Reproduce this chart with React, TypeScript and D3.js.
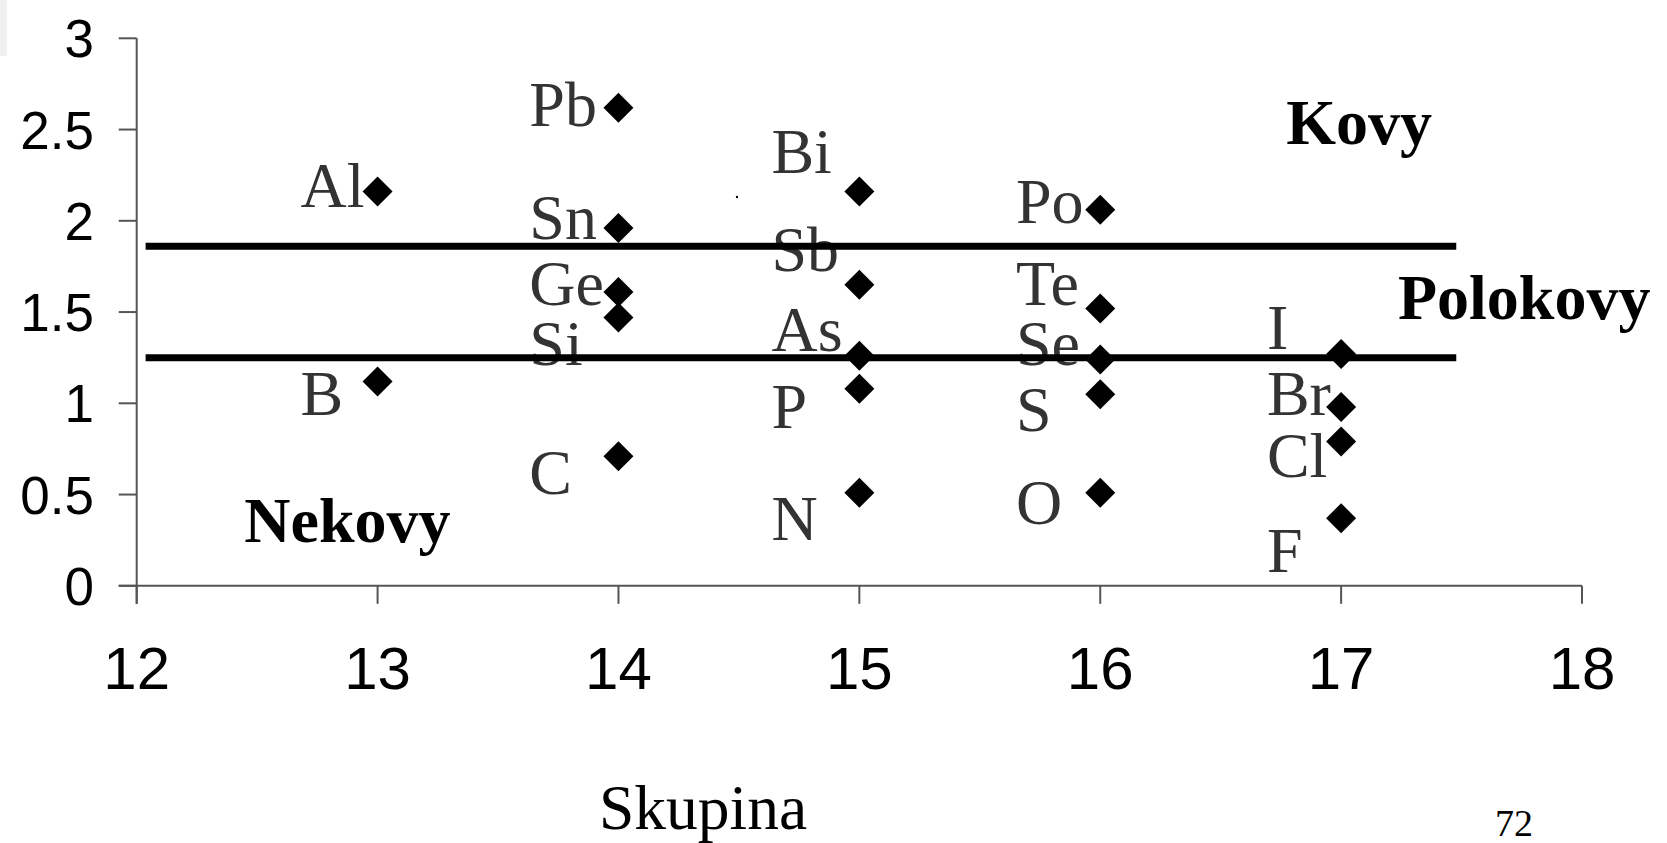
import React from "react";
import * as d3 from "d3";

// Element symbols, group (x) and value (y)
const elements = ["Al", "B", "Pb", "Sn", "Ge", "Si", "C", "Bi", "Sb", "As", "P", "N", "Po", "Te", "Se", "S", "O", "I", "Br", "Cl", "F"];
const groups = [13, 13, 14, 14, 14, 14, 14, 15, 15, 15, 15, 15, 16, 16, 16, 16, 16, 17, 17, 17, 17];
const values = [2.16, 1.12, 2.62, 1.96, 1.61, 1.47, 0.71, 2.16, 1.65, 1.26, 1.08, 0.51, 2.06, 1.52, 1.24, 1.05, 0.51, 1.27, 0.98, 0.79, 0.37];
// label anchor (left / baseline) in data units
const labelX = [12.68, 12.68, 13.63, 13.63, 13.63, 13.63, 13.63, 14.635, 14.635, 14.635, 14.635, 14.635, 15.65, 15.65, 15.65, 15.65, 15.65, 16.692, 16.692, 16.692, 16.692];
const labelY = [2.074, 0.938, 2.522, 1.899, 1.538, 1.212, 0.501, 2.26, 1.724, 1.287, 0.862, 0.25, 1.986, 1.538, 1.212, 0.85, 0.338, 1.299, 0.938, 0.594, 0.076];

// boundary lines
const boundaryValues = [1.86, 1.25];
const boundaryStart = 12.037;
const boundaryEnd = 17.478;

// region labels
const regionNames = ["Kovy", "Polokovy", "Nekovy"];
const regionX = [16.772, 17.236, 12.447];
const regionY = [2.423, 1.462, 0.239];

const xTicks = [12, 13, 14, 15, 16, 17, 18];
const yTicks = [0, 0.5, 1, 1.5, 2, 2.5, 3];
const xTitle = "Skupina";
const pageNumber = "72";

export default function App() {
  const W = 1667, H = 843;
  const x = d3.scaleLinear().domain([12, 18]).range([136.7, 1582]);
  const y = d3.scaleLinear().domain([0, 3]).range([585.8, 38.3]);
  const diamond = d3.symbol().type(d3.symbolSquare).size(450)() as string;
  const axisColor = "#555";
  const tick = 18;

  return (
    <svg width={W} height={H} style={{ position: "absolute", left: 0, top: 0, background: "#fff" }}>
      <rect x={0} y={0} width={7} height={56} fill="#f0f0f0" />
      {/* axes */}
      <line x1={x(12)} x2={x(12)} y1={y(3)} y2={y(0) + tick} stroke={axisColor} strokeWidth={2} />
      <line x1={x(12) - tick} x2={x(18)} y1={y(0)} y2={y(0)} stroke={axisColor} strokeWidth={2} />
      {yTicks.map((t) => (
        <g key={"yt" + t}>
          <line x1={x(12) - tick} x2={x(12)} y1={y(t)} y2={y(t)} stroke={axisColor} strokeWidth={2} />
          <text x={94} y={y(t)} dy="0.36em" textAnchor="end" fontFamily="'Liberation Sans', Arial, sans-serif" fontSize={53} fill="#000">
            {t}
          </text>
        </g>
      ))}
      {xTicks.map((t) => (
        <g key={"xt" + t}>
          <line x1={x(t)} x2={x(t)} y1={y(0)} y2={y(0) + tick} stroke={axisColor} strokeWidth={2} />
          <text x={x(t)} y={689} textAnchor="middle" fontFamily="'Liberation Sans', Arial, sans-serif" fontSize={60} fill="#000">
            {t}
          </text>
        </g>
      ))}
      {/* element labels */}
      {elements.map((e, i) => (
        <text key={"l" + e} x={x(labelX[i])} y={y(labelY[i])} fontFamily="'Liberation Serif', 'Times New Roman', serif" fontSize={64} fill="#333">
          {e}
        </text>
      ))}
      {/* boundary lines */}
      {boundaryValues.map((b) => (
        <line key={"b" + b} x1={x(boundaryStart)} x2={x(boundaryEnd)} y1={y(b)} y2={y(b)} stroke="#000" strokeWidth={7} />
      ))}
      {/* markers */}
      {elements.map((e, i) => (
        <path key={"m" + e} d={diamond} transform={`translate(${x(groups[i])},${y(values[i])}) rotate(45)`} fill="#000" />
      ))}
      {/* region labels */}
      {regionNames.map((r, i) => (
        <text key={r} x={x(regionX[i])} y={y(regionY[i])} fontFamily="'Liberation Serif', 'Times New Roman', serif" fontWeight="bold" fontSize={64} fill="#000">
          {r}
        </text>
      ))}
      <circle cx={737} cy={197} r={1.2} fill="#000" />
      <text x={703} y={829} textAnchor="middle" fontFamily="'Liberation Serif', 'Times New Roman', serif" fontSize={63.5} fill="#000">
        {xTitle}
      </text>
      <text x={1514} y={836} textAnchor="middle" fontFamily="'Liberation Serif', 'Times New Roman', serif" fontSize={38} fill="#000">
        {pageNumber}
      </text>
    </svg>
  );
}
